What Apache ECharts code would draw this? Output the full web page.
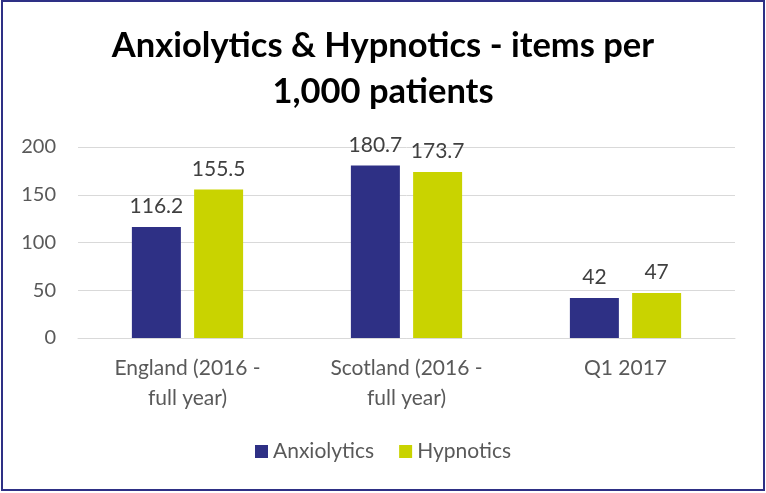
<!DOCTYPE html>
<html>
<head>
<meta charset="utf-8">
<script src="https://cdn.jsdelivr.net/npm/echarts@6/dist/echarts.min.js"></script>
<style>
  html, body { margin: 0; padding: 0; background: #fff; }
  #frame { position: absolute; left: 1px; top: 0; width: 760px; height: 487px; border: 2px solid #2E3085; }
  #chart { width: 760px; height: 487px; }
</style>
</head>
<body>
<div id="frame"><div id="chart"></div></div>
<script>
var categories = ['England (2016 -\nfull year)', 'Scotland (2016 -\nfull year)', 'Q1 2017'];
var anxiolytics = [116.2, 180.7, 42];
var hypnotics = [155.5, 173.7, 47];
var yTicks = { min: 0, max: 200, interval: 50 };

var chart = echarts.init(document.getElementById('chart'));
var font = 'Lato';

var option = {
  animation: false,
  title: {
    text: 'Anxiolytics & Hypnotics - items per\n1,000 patients',
    left: 'center',
    top: 16,
    textStyle: { fontFamily: font, fontWeight: 'bold', fontSize: 34.5, lineHeight: 46, color: '#000' }
  },
  legend: {
    bottom: 22,
    left: 'center',
    itemWidth: 13,
    itemHeight: 13,
    itemGap: 25,
    icon: 'rect',
    textStyle: { fontFamily: font, fontSize: 21, color: '#595959' },
    data: ['Anxiolytics', 'Hypnotics']
  },
  grid: { left: 75, right: 28, top: 145, bottom: 151, containLabel: false },
  xAxis: {
    type: 'category',
    data: categories,
    axisLine: { show: true, lineStyle: { color: '#D9D9D9', width: 1 } },
    axisTick: { show: false },
    axisLabel: { fontFamily: font, fontSize: 21, color: '#595959', lineHeight: 30, margin: 15, interval: 0 }
  },
  yAxis: {
    type: 'value',
    min: yTicks.min,
    max: yTicks.max,
    interval: yTicks.interval,
    axisLine: { show: false },
    axisTick: { show: false },
    splitLine: { lineStyle: { color: '#D9D9D9', width: 1 } },
    axisLabel: { fontFamily: font, fontSize: 20, color: '#595959', margin: 22 }
  },
  series: [
    {
      name: 'Anxiolytics',
      type: 'bar',
      data: anxiolytics,
      barWidth: 49,
      barGap: '27%',
      itemStyle: { color: '#2E3085' },
      label: { show: true, position: 'top', distance: 10, fontFamily: font, fontSize: 21, color: '#404040' }
    },
    {
      name: 'Hypnotics',
      type: 'bar',
      data: hypnotics,
      barWidth: 49,
      barGap: '27%',
      itemStyle: { color: '#C9D300' },
      label: { show: true, position: 'top', distance: 10, fontFamily: font, fontSize: 21, color: '#404040' }
    }
  ]
};

chart.setOption(option);
</script>
</body>
</html>
